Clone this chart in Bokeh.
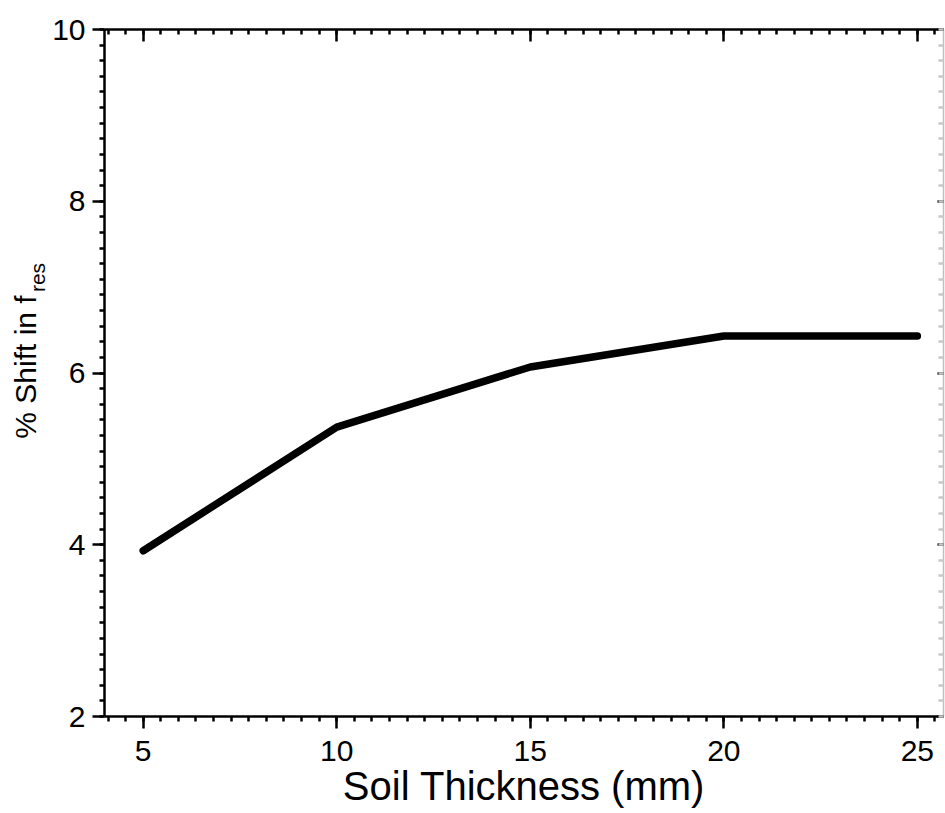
import numpy as np
from bokeh.plotting import figure
from bokeh.layouts import row
from bokeh.models import LinearAxis, FixedTicker, Range1d
from bokeh.core.properties import value
from bokeh.embed import file_html
from bokeh.resources import INLINE

# Data
soil_thickness_mm = [5, 10, 15, 20, 25]
shift_pct = [3.93, 5.37, 6.07, 6.43, 6.43]

x_major = [5, 10, 15, 20, 25]
y_major = [2, 4, 6, 8, 10]
x_label = "Soil Thickness (mm)"
y_label_main = "% Shift in f"
y_label_sub = "res"

FONT = "Liberation Sans"
W, H = 945, 813
LW = 49          # width of the strip holding the y title
TOP, BOTTOM = 29, 716   # frame edges, page pixels

x_minor = [round(v, 4) for v in np.arange(0, 30, 5 / 11) if 3.9 < v < 25.6]
y_minor = [round(v, 4) for v in np.arange(2, 10.01, 2 / 11)]

# ---- strip with the rotated y-axis title (real text, with subscript) ----
# its frame is aligned with the main frame; y data = H - page pixel
lab = figure(width=LW, height=H, output_backend="svg", toolbar_location=None,
             x_range=Range1d(0, LW), y_range=Range1d(H - BOTTOM, H - TOP),
             x_axis_type=None, y_axis_type=None,
             min_border=0, min_border_left=0, min_border_right=0,
             min_border_top=TOP, min_border_bottom=H - BOTTOM)
lab.outline_line_color = None
lab.grid.visible = False
lab.background_fill_color = "white"
lab.border_fill_color = "white"
lab.text(x=[24.5], y=[H - 366.5], text=[y_label_main], angle=np.pi / 2,
         text_font=value(FONT), text_font_size="30px", text_color="black",
         text_align="center", text_baseline="middle")
lab.text(x=[37.0], y=[H - 277], text=[y_label_sub], angle=np.pi / 2,
         text_font=value(FONT), text_font_size="21px", text_color="black",
         text_align="center", text_baseline="middle")

# ---- main plot ----
p = figure(width=W - LW, height=H, output_backend="svg", toolbar_location=None,
           x_range=Range1d(4.0, 25.675), y_range=Range1d(2, 10),
           min_border_left=102 - LW, min_border_top=TOP, min_border_bottom=H - BOTTOM,
           min_border_right=2)
p.background_fill_color = "white"
p.border_fill_color = "white"
p.outline_line_color = None
p.grid.visible = False

p.line(soil_thickness_mm, shift_pct, line_color="black", line_width=7.5,
       line_cap="round", line_join="round")


def style(ax, labels=True, inward=False):
    ax.axis_line_color = "black"
    ax.axis_line_width = 2.5
    ax.major_tick_line_color = "black"
    ax.major_tick_line_width = 2.5
    ax.minor_tick_line_color = "black"
    ax.minor_tick_line_width = 2.5
    if inward:
        ax.major_tick_in = 12
        ax.major_tick_out = 0
        ax.minor_tick_in = 5
        ax.minor_tick_out = 0
    else:
        ax.major_tick_in = 0
        ax.major_tick_out = 12
        ax.minor_tick_in = 0
        ax.minor_tick_out = 5
    if labels:
        ax.major_label_text_font = FONT
        ax.major_label_text_font_size = "30px"
        ax.major_label_text_color = "black"
    else:
        ax.major_label_overrides = {t: "" for t in ax.ticker.ticks}
        ax.major_label_standoff = 0


xa = p.xaxis[0]
xa.ticker = FixedTicker(ticks=x_major, minor_ticks=x_minor)
style(xa)
xa.major_label_standoff = 12
xa.axis_label = x_label
xa.axis_label_text_font = FONT
xa.axis_label_text_font_size = "40px"
xa.axis_label_text_font_style = "normal"
xa.axis_label_text_color = "black"
xa.axis_label_standoff = 0

ya = p.yaxis[0]
ya.ticker = FixedTicker(ticks=y_major, minor_ticks=y_minor)
style(ya)
ya.major_label_standoff = 7
ya.major_label_orientation = "horizontal"

top = LinearAxis(ticker=FixedTicker(ticks=x_major, minor_ticks=x_minor))
style(top, labels=False, inward=True)
p.add_layout(top, "above")

right = LinearAxis(ticker=FixedTicker(ticks=y_major, minor_ticks=y_minor))
style(right, labels=False, inward=True)
right.axis_line_color = "#c0c0c0"
right.axis_line_width = 1.5
right.minor_tick_line_color = "#c8c8c8"
right.major_tick_in = 6
p.add_layout(right, "right")

layout = row(lab, p, spacing=0)
open("out.html", "w").write(file_html(layout, INLINE))
